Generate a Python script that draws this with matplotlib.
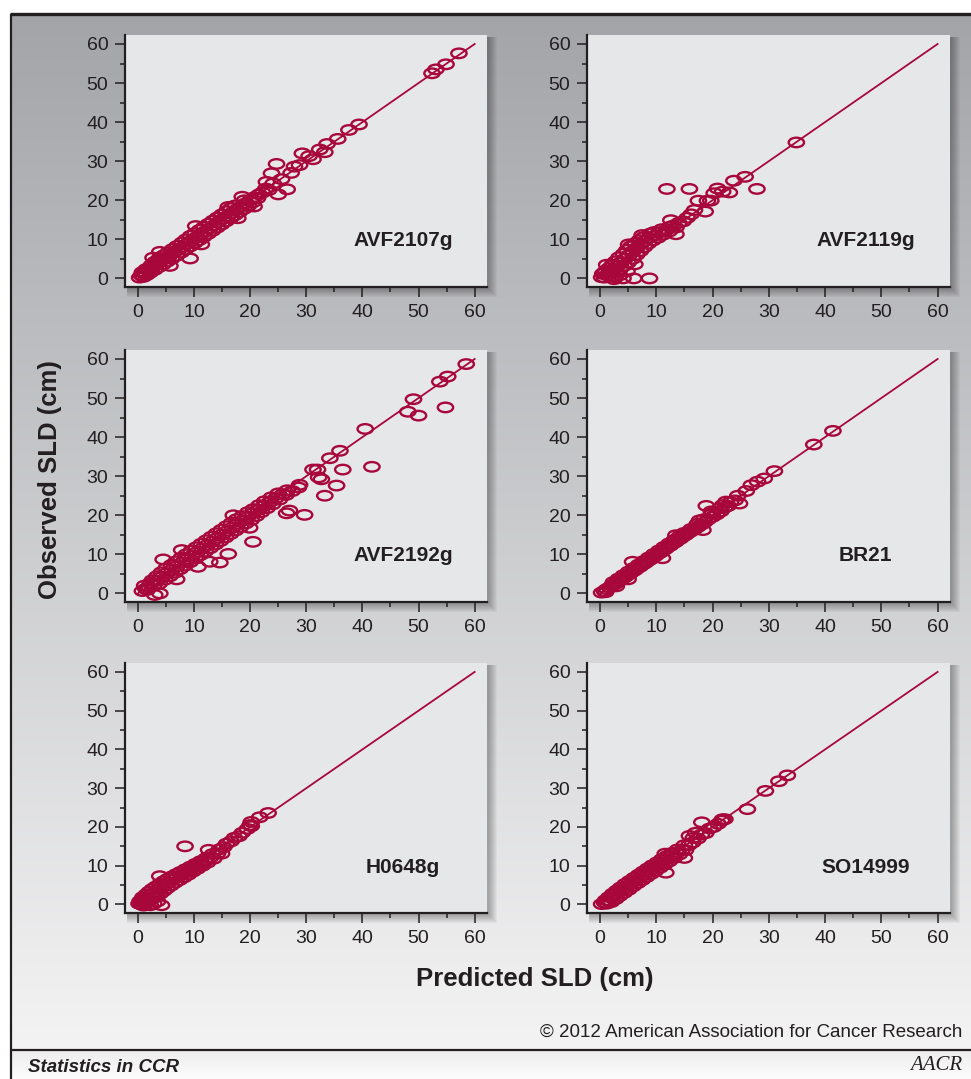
import numpy as np
import matplotlib.pyplot as plt
from matplotlib.path import Path
from matplotlib.patches import Rectangle
from matplotlib import font_manager as fm

plt.rcParams['font.family'] = ['Liberation Sans', 'DejaVu Sans']

# (predicted, observed)
avf2107g = [
    (57.2, 57.6), (54.9, 54.8), (53.1, 53.5), (52.4, 52.5), (39.4, 39.4), (37.6, 38.0),
    (35.6, 35.7), (33.7, 34.4), (33.3, 32.3), (32.4, 33.0), (31.2, 30.5), (30.5, 31.3),
    (29.3, 32.0), (28.8, 29.0), (27.9, 28.6), (27.3, 27.0), (24.7, 29.3), (23.8, 26.9),
    (26.6, 22.8), (25.0, 21.5), (25.6, 25.4), (24.1, 24.3), (22.9, 24.7), (20.7, 18.4),
    (18.6, 20.9), (16.1, 18.3), (17.8, 15.4), (10.3, 13.4), (11.3, 8.7), (9.3, 5.1),
    (5.7, 3.2), (2.7, 5.3), (3.9, 6.8),
    (0.3, 0.2), (0.6, 0.8), (1.0, 0.4), (1.2, 1.3), (0.8, 1.6), (1.6, 0.9), (1.9, 2.0),
    (2.2, 1.5), (1.5, 2.4), (2.6, 2.8), (3.0, 2.2), (2.4, 3.4), (3.3, 3.6), (3.7, 2.9),
    (3.1, 4.3), (4.0, 4.4), (4.5, 3.6), (3.8, 5.1), (4.8, 5.0), (5.2, 4.3), (4.6, 5.9),
    (5.6, 5.8), (6.0, 5.0), (5.4, 6.7), (6.4, 6.6), (6.9, 5.8), (6.2, 7.5), (7.2, 7.3),
    (7.7, 6.6), (7.0, 8.3), (8.0, 8.0), (8.5, 7.4), (7.9, 9.2), (8.8, 8.9), (9.3, 8.2),
    (8.6, 10.0), (9.6, 9.7), (10.1, 9.0), (9.4, 10.9), (10.4, 10.5), (10.9, 9.8),
    (10.2, 11.6), (11.2, 11.3), (11.7, 10.6), (11.0, 12.4), (12.0, 12.0), (12.5, 11.4),
    (11.8, 13.2), (12.8, 12.8), (13.3, 12.2), (12.6, 14.0), (13.6, 13.6), (14.1, 13.0),
    (13.4, 14.8), (14.4, 14.5), (14.9, 13.8), (14.2, 15.6), (15.2, 15.3), (15.7, 14.6),
    (15.0, 16.4), (16.0, 16.0), (16.5, 15.4), (15.8, 17.2), (16.8, 16.8), (17.3, 16.2),
    (16.6, 18.0), (17.6, 17.6), (18.1, 17.0), (17.4, 18.7), (18.4, 18.4), (18.9, 17.8),
    (19.2, 19.2), (19.7, 18.6), (19.0, 20.0), (20.0, 20.0), (20.5, 19.5), (20.8, 20.8),
    (21.3, 20.5), (21.6, 21.5), (22.2, 22.0), (22.8, 23.0), (23.3, 22.6),
]

avf2119g = [
    (34.9, 34.8), (25.8, 26.0), (23.8, 25.0), (27.9, 22.9), (11.9, 22.9), (15.9, 22.9),
    (20.9, 23.0), (21.8, 22.2), (23.0, 22.0), (20.3, 21.8), (19.1, 19.9), (19.7, 19.9),
    (17.5, 19.9), (18.7, 17.1), (16.8, 17.5), (13.5, 11.3), (12.6, 14.9), (7.5, 11.1),
    (9.7, 11.9), (5.1, 8.7), (8.8, 0.0), (6.0, 0.0), (4.1, 0.0), (2.5, -0.2), (0.9, 1.5),
    (0.3, 0.3), (0.8, 0.2), (0.5, 1.2), (1.3, 0.8), (1.0, 1.9), (1.8, 1.5), (2.2, 0.6),
    (1.6, 2.6), (2.5, 2.4), (2.9, 1.6), (2.2, 3.5), (3.2, 3.3), (3.6, 2.4), (2.8, 4.4),
    (3.8, 4.2), (4.3, 3.2), (3.4, 5.4), (4.5, 5.1), (5.0, 4.0), (4.2, 6.3), (5.2, 6.0),
    (5.8, 5.0), (4.8, 7.3), (5.9, 7.0), (6.5, 6.0), (5.5, 8.2), (6.6, 7.9), (7.2, 7.0),
    (6.3, 9.0), (7.3, 8.8), (7.9, 8.0), (7.0, 9.8), (8.0, 9.6), (8.6, 8.9), (7.8, 10.6),
    (8.8, 10.4), (9.4, 9.7), (9.0, 11.5), (9.8, 11.0), (10.3, 10.4), (10.6, 11.8),
    (11.2, 11.2), (11.0, 12.6), (11.8, 12.4), (12.3, 12.0), (12.4, 13.2), (13.0, 13.5),
    (13.5, 13.0), (14.0, 14.2), (14.8, 14.6), (15.5, 15.5), (16.2, 16.4), (3.5, 0.8),
    (2.7, 0.3), (4.8, 1.8), (6.2, 3.6), (1.2, 3.5),
]

avf2192g = [
    (58.5, 58.7), (55.2, 55.5), (53.8, 54.2), (54.8, 47.6), (49.1, 49.7), (48.1, 46.5),
    (50.0, 45.5), (41.7, 32.4), (40.5, 42.1), (36.0, 36.5), (34.2, 34.6), (36.5, 31.7),
    (35.4, 27.6), (33.3, 25.0), (32.7, 29.2), (32.2, 29.7), (32.0, 31.7), (31.2, 31.7),
    (28.6, 27.1), (29.7, 20.1), (26.5, 20.5), (27.0, 21.2), (20.5, 13.2), (17.0, 20.0),
    (19.9, 16.8), (16.1, 10.1), (14.6, 7.9), (12.8, 8.1), (10.7, 6.8), (4.5, 8.7),
    (7.8, 11.1), (6.9, 3.6), (3.9, 0.0), (3.0, -0.4), (1.7, 0.9),
    (0.8, 0.6), (1.4, 1.2), (1.2, 2.0), (2.0, 1.5), (2.2, 2.6), (2.8, 2.0), (2.6, 3.4),
    (3.4, 3.2), (3.8, 2.5), (3.4, 4.4), (4.3, 4.2), (4.8, 3.5), (4.2, 5.4), (5.2, 5.2),
    (5.7, 4.4), (5.0, 6.4), (6.1, 6.1), (6.6, 5.3), (6.0, 7.3), (7.0, 7.0), (7.5, 6.2),
    (6.8, 8.2), (7.9, 7.9), (8.4, 7.1), (7.7, 9.1), (8.8, 8.8), (9.3, 8.0), (8.6, 10.0),
    (9.7, 9.7), (10.2, 8.9), (9.5, 10.9), (10.6, 10.6), (11.1, 9.8), (10.4, 11.8),
    (11.5, 11.5), (12.0, 10.7), (11.3, 12.7), (12.4, 12.4), (12.9, 11.6), (12.2, 13.6),
    (13.3, 13.3), (13.8, 12.5), (13.1, 14.5), (14.2, 14.2), (14.7, 13.4), (14.0, 15.4),
    (15.1, 15.1), (15.6, 14.3), (14.9, 16.3), (16.0, 16.0), (16.5, 15.2), (15.8, 17.2),
    (16.9, 16.9), (17.4, 16.1), (16.7, 18.1), (17.8, 17.8), (18.3, 17.0), (17.6, 19.0),
    (18.7, 18.7), (19.2, 17.9), (18.6, 19.8), (19.6, 19.6), (20.2, 18.8), (19.6, 20.8),
    (20.5, 20.5), (21.1, 19.8), (20.6, 21.6), (21.5, 21.4), (22.0, 20.8), (21.6, 22.6),
    (22.5, 22.4), (23.0, 21.8), (22.6, 23.6), (23.5, 23.4), (24.0, 22.8), (23.8, 24.6),
    (24.6, 24.4), (25.2, 24.0), (25.0, 25.6), (25.8, 25.4), (26.4, 25.2), (26.6, 26.4),
    (27.5, 26.2), (28.8, 27.8),
]

br21 = [
    (41.4, 41.6), (38.0, 38.1), (31.0, 31.3), (29.2, 29.4), (28.0, 28.6), (26.9, 27.7),
    (26.0, 26.2), (24.5, 25.0), (24.8, 23.0), (22.4, 23.5), (21.8, 22.6), (18.9, 22.4),
    (19.8, 21.0), (20.7, 20.2), (18.3, 16.2), (17.7, 18.7), (13.5, 14.9), (11.1, 9.0),
    (5.8, 8.1),
    (0.3, 0.2), (0.8, 0.6), (1.2, 1.1), (1.0, 0.3), (1.7, 1.5), (2.1, 2.0), (2.6, 2.3),
    (2.4, 2.9), (3.0, 2.8), (3.5, 3.2), (3.3, 3.8), (3.9, 3.7), (4.4, 4.1), (4.2, 4.7),
    (4.8, 4.6), (5.3, 5.0), (5.1, 5.6), (5.7, 5.5), (6.2, 5.9), (6.0, 6.5), (6.6, 6.4),
    (7.1, 6.8), (6.9, 7.4), (7.5, 7.3), (8.0, 7.7), (7.8, 8.3), (8.4, 8.2), (8.9, 8.6),
    (8.7, 9.2), (9.3, 9.1), (9.8, 9.5), (9.6, 10.1), (10.2, 10.0), (10.7, 10.4),
    (10.5, 11.0), (11.1, 10.9), (11.6, 11.3), (11.4, 11.9), (12.0, 11.8), (12.5, 12.2),
    (12.3, 12.8), (12.9, 12.7), (13.4, 13.1), (13.2, 13.7), (13.8, 13.6), (14.3, 14.0),
    (14.1, 14.6), (14.7, 14.5), (15.2, 14.9), (15.0, 15.5), (15.6, 15.4), (16.1, 15.8),
    (16.2, 16.5), (16.8, 16.4), (17.4, 17.0), (17.3, 17.8), (18.0, 17.6), (18.6, 18.2),
    (18.5, 19.0), (19.2, 18.9), (20.0, 19.6), (20.0, 20.6), (20.8, 20.4), (21.5, 21.0),
    (21.3, 21.8), (22.2, 22.0), (22.8, 22.4), (23.2, 23.4), (24.0, 23.8), (2.9, 1.8),
    (5.0, 3.6),
]

h0648g = [
    (23.2, 23.6), (21.7, 22.5), (20.2, 21.3), (20.0, 20.5), (8.4, 15.0), (14.9, 13.1),
    (12.6, 14.1), (3.9, 7.3), (4.2, -0.2),
    (0.2, 0.2), (0.6, 0.0), (0.4, 0.9), (1.0, 0.5), (1.2, 1.4), (1.6, 0.6), (0.9, 1.9),
    (1.8, 1.8), (2.2, 1.1), (1.5, 2.6), (2.4, 2.5), (2.8, 1.7), (2.0, 3.3), (3.0, 3.1),
    (3.4, 2.2), (2.6, 4.0), (3.6, 3.8), (4.0, 2.8), (3.2, 4.6), (4.2, 4.4), (4.6, 3.5),
    (3.9, 5.3), (4.8, 5.0), (5.2, 4.2), (4.6, 6.0), (5.5, 5.7), (5.9, 4.9), (5.3, 6.6),
    (6.2, 6.4), (6.6, 5.6), (6.0, 7.2), (7.0, 7.0), (7.4, 6.3), (6.8, 7.8), (7.8, 7.6),
    (8.2, 7.0), (7.6, 8.4), (8.6, 8.3), (9.0, 7.7), (8.5, 9.1), (9.4, 9.0), (9.8, 8.5),
    (9.4, 9.8), (10.2, 9.7), (10.6, 9.2), (10.3, 10.5), (11.1, 10.4), (11.5, 10.0),
    (11.2, 11.2), (12.0, 11.2), (12.4, 10.8), (12.2, 12.0), (13.0, 12.2), (13.5, 11.8),
    (13.3, 13.0), (14.2, 13.2), (14.5, 14.2), (15.3, 14.8), (15.8, 15.7), (16.6, 16.3),
    (17.2, 17.2), (18.0, 17.6), (18.6, 18.5), (19.5, 19.5), (20.2, 20.2), (1.0, -0.3),
    (2.8, 0.2), (3.5, 0.8), (2.2, -0.2),
]

so14999 = [
    (33.3, 33.3), (31.8, 31.8), (29.4, 29.3), (26.2, 24.6), (21.8, 22.0), (18.1, 21.2),
    (15.9, 17.7), (15.0, 12.0), (11.7, 8.2), (11.6, 13.1), (17.0, 18.5),
    (0.3, 0.1), (0.8, 0.5), (1.2, 0.2), (1.0, 1.1), (1.6, 1.0), (2.0, 0.6), (1.6, 1.9),
    (2.3, 1.8), (2.8, 1.4), (2.3, 2.8), (3.0, 2.7), (3.5, 2.2), (3.0, 3.6), (3.8, 3.5),
    (4.3, 3.0), (3.7, 4.4), (4.6, 4.3), (5.1, 3.8), (4.5, 5.3), (5.4, 5.2), (5.9, 4.7),
    (5.3, 6.1), (6.2, 6.0), (6.7, 5.5), (6.1, 6.9), (7.0, 6.8), (7.5, 6.3), (6.9, 7.7),
    (7.8, 7.6), (8.3, 7.1), (7.7, 8.5), (8.6, 8.4), (9.1, 7.9), (8.5, 9.3), (9.4, 9.2),
    (9.9, 8.7), (9.3, 10.1), (10.2, 10.0), (10.7, 9.5), (10.2, 10.9), (11.0, 10.8),
    (11.5, 10.3), (11.0, 11.7), (11.8, 11.6), (12.3, 11.1), (11.9, 12.5), (12.7, 12.4),
    (13.2, 12.0), (12.8, 13.3), (13.6, 13.2), (14.1, 12.9), (13.8, 14.2), (14.6, 14.1),
    (15.2, 14.0), (15.0, 15.3), (15.8, 15.3), (16.5, 16.0), (16.6, 17.2), (17.4, 17.0),
    (18.0, 18.0), (18.8, 18.4), (19.5, 19.6), (20.2, 20.0), (21.0, 20.8), (21.6, 21.6),
    (22.2, 22.0),
]

panel_names = ['AVF2107g', 'AVF2119g', 'AVF2192g', 'BR21', 'H0648g', 'SO14999']
panel_data = [avf2107g, avf2119g, avf2192g, br21, h0648g, so14999]
ticks = [0, 10, 20, 30, 40, 50, 60]

red = '#a8073b'
ink = '#231f20'
W, H = 971, 1079

fig = plt.figure(figsize=(W / 100, H / 100), dpi=100)
fig.patch.set_facecolor('white')

# background: gradient panel, frame lines and panel shadows
bg = fig.add_axes([0, 0, 1, 1], zorder=-5)
bg.axis('off')
t = np.linspace(0, 1, 256)[:, None, None]
top = np.array([0.64, 0.645, 0.66])
bot = np.array([0.955, 0.955, 0.958])
bg.imshow(top + (bot - top) * t, extent=[11, W, 1050, 14], aspect='auto',
          interpolation='bilinear')
t2 = np.linspace(0, 1, 32)[:, None, None]
bg.imshow(np.array([0.93, 0.93, 0.93]) + 0.06 * t2, extent=[11, W, H, 1050],
          aspect='auto', interpolation='bilinear')
bg.set_xlim(0, W)
bg.set_ylim(H, 0)
bg.plot([10, W], [14, 14], color=ink, lw=2.4, solid_capstyle='butt')
bg.plot([11, 11], [14, H], color=ink, lw=1.6, solid_capstyle='butt')
bg.plot([11, W], [1050, 1050], color=ink, lw=1.6, solid_capstyle='butt')

cols = [(125, 487), (587, 950)]
rows = [(35, 287), (350, 602), (663, 913)]
for (y0, y1) in rows:
    for (x0, x1) in cols:
        for k in range(9):
            bg.add_patch(Rectangle((x0 + 2, y0 + 2), x1 - x0 + k, y1 - y0 + k,
                                   facecolor='black', edgecolor='none', alpha=0.035))

# ellipse marker
circ = Path.unit_circle()
ellipse = Path(circ.vertices * np.array([1.0, 0.62]), circ.codes)

for i, (name, pts) in enumerate(zip(panel_names, panel_data)):
    (y0, y1) = rows[i // 2]
    (x0, x1) = cols[i % 2]
    ax = fig.add_axes([x0 / W, 1 - y1 / H, (x1 - x0) / W, (y1 - y0) / H])
    ax.set_facecolor('#e6e7e9')
    pred = [p[0] for p in pts]
    obs = [p[1] for p in pts]
    ax.plot([0, 60], [0, 60], color=red, lw=1.3, zorder=2)
    ax.scatter(pred, obs, marker=ellipse, s=122, facecolors='none',
               edgecolors=red, linewidths=1.7, zorder=3)
    ax.text(47.2, 9.6, name, ha='center', va='center', fontsize=15,
            fontweight='bold', color=ink)
    ax.set_xlim(-2.3, 62.2)
    ax.set_ylim(-2.2, 62.3)
    ax.set_xticks(ticks)
    ax.set_yticks(ticks)
    ax.set_xticks(range(5, 60, 10), minor=True)
    ax.set_yticks(range(5, 60, 10), minor=True)
    ax.tick_params(which='major', direction='out', length=7, width=1.1,
                   color=ink, labelcolor=ink, labelsize=14, pad=5)
    ax.tick_params(which='minor', direction='out', length=3.5, width=1.1, color=ink)
    for s in ['top', 'right']:
        ax.spines[s].set_visible(False)
    for s in ['left', 'bottom']:
        ax.spines[s].set_linewidth(1.6)
        ax.spines[s].set_color(ink)

fig.text(50 / W, 1 - 480 / H, 'Observed SLD (cm)', rotation=90, ha='center',
         va='center', fontsize=18.5, fontweight='bold', color=ink)
fig.text(535 / W, 1 - 979 / H, 'Predicted SLD (cm)', ha='center', va='center',
         fontsize=18.5, fontweight='bold', color=ink)

installed = {f.name for f in fm.fontManager.ttflist}
narrow = 'Liberation Sans Narrow' if 'Liberation Sans Narrow' in installed else 'Liberation Sans'
fig.text(962 / W, 1 - 1032 / H, '\u00a9 2012 American Association for Cancer Research',
         ha='right', va='center', fontsize=13.5, family=[narrow, 'DejaVu Sans'], color=ink)
fig.text(28 / W, 1 - 1067 / H, 'Statistics in CCR', ha='left', va='center',
         fontsize=13.5, fontweight='bold', fontstyle='italic', color=ink)
fig.text(962 / W, 1 - 1065 / H, 'AACR', ha='right', va='center', fontsize=15,
         family=['Liberation Serif', 'DejaVu Serif'], fontstyle='italic', color=ink)

fig.savefig('out.png', dpi=100, facecolor=fig.get_facecolor())
